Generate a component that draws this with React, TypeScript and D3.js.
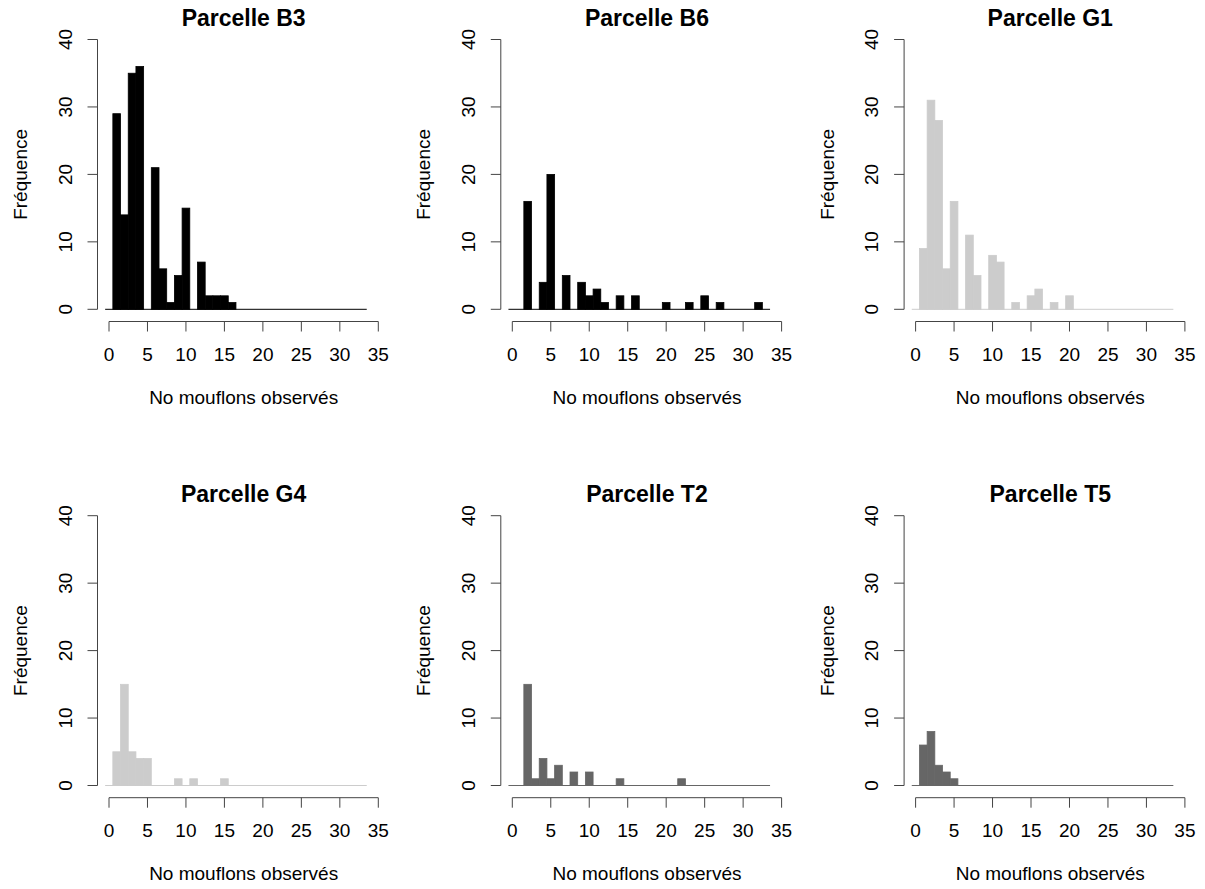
import React from "react";
import * as d3 from "d3";

// ---- data (counts per number of mouflons observed, bins 0..33) ----
const bins: number[] = d3.range(0, 34);
const titles: string[] = ["Parcelle B3", "Parcelle B6", "Parcelle G1", "Parcelle G4", "Parcelle T2", "Parcelle T5"];
const countsB3: number[] = [0, 29, 14, 35, 36, 0, 21, 6, 1, 5, 15, 0, 7, 2, 2, 2, 1, 0, 0, 0, 0, 0, 0, 0, 0, 0, 0, 0, 0, 0, 0, 0, 0, 0];
const countsB6: number[] = [0, 0, 16, 0, 4, 20, 0, 5, 0, 4, 2, 3, 1, 0, 2, 0, 2, 0, 0, 0, 1, 0, 0, 1, 0, 2, 0, 1, 0, 0, 0, 0, 1, 0];
const countsG1: number[] = [0, 9, 31, 28, 6, 16, 0, 11, 5, 0, 8, 7, 0, 1, 0, 2, 3, 0, 1, 0, 2, 0, 0, 0, 0, 0, 0, 0, 0, 0, 0, 0, 0, 0];
const countsG4: number[] = [0, 5, 15, 5, 4, 4, 0, 0, 0, 1, 0, 1, 0, 0, 0, 1, 0, 0, 0, 0, 0, 0, 0, 0, 0, 0, 0, 0, 0, 0, 0, 0, 0, 0];
const countsT2: number[] = [0, 0, 15, 1, 4, 1, 3, 0, 2, 0, 2, 0, 0, 0, 1, 0, 0, 0, 0, 0, 0, 0, 1, 0, 0, 0, 0, 0, 0, 0, 0, 0, 0, 0];
const countsT5: number[] = [0, 6, 8, 3, 2, 1, 0, 0, 0, 0, 0, 0, 0, 0, 0, 0, 0, 0, 0, 0, 0, 0, 0, 0, 0, 0, 0, 0, 0, 0, 0, 0, 0, 0];
const colors: string[] = ["#000000", "#000000", "#cccccc", "#cccccc", "#666666", "#666666"];
const xTicks: number[] = [0, 5, 10, 15, 20, 25, 30, 35];
const yTicks: number[] = [0, 10, 20, 30, 40];
const xLabel = "No mouflons observés";
const yLabel = "Fréquence";

const allCounts = [countsB3, countsB6, countsG1, countsG4, countsT2, countsT5];

const FONT = "'Liberation Sans', Arial, Helvetica, sans-serif";
const AXIS = "#444";

function Panel({ idx }: { idx: number }) {
  const col = idx % 3;
  const row = Math.floor(idx / 3);
  const dx = col * 403.3;
  const dy = row * 476.2;
  const x = d3.scaleLinear().domain([0, 35]).range([109 + dx, 378.3 + dx]);
  const y = d3.scaleLinear().domain([0, 40]).range([309.3 + dy, 39.5 + dy]);
  const counts = allCounts[idx];
  const color = colors[idx];
  const axisX = 97.5 + dx;
  const axisY = 321.5 + dy;
  const tickLen = 10;
  const cx = x(17.5);
  const cy = y(20);
  return (
    <g>
      <text x={cx} y={26 + dy} textAnchor="middle" fontFamily={FONT} fontWeight="bold" fontSize={23} fill="#000">
        {titles[idx]}
      </text>
      <line x1={x(-0.5)} x2={x(33.5)} y1={y(0)} y2={y(0)} stroke={color} strokeWidth={1} />
      {bins.map((b, i) =>
        counts[i] > 0 ? (
          <rect
            key={b}
            x={x(b - 0.5)}
            width={x(b + 0.5) - x(b - 0.5)}
            y={y(counts[i])}
            height={y(0) - y(counts[i])}
            fill={color}
            stroke={color}
            strokeWidth={0.8}
          />
        ) : null
      )}
      <line x1={axisX} x2={axisX} y1={y(0)} y2={y(40)} stroke={AXIS} strokeWidth={1} />
      {yTicks.map((t) => (
        <g key={"y" + t}>
          <line x1={axisX - tickLen} x2={axisX} y1={y(t)} y2={y(t)} stroke={AXIS} strokeWidth={1} />
          <text
            transform={`translate(${axisX - 26},${y(t)}) rotate(-90)`}
            textAnchor="middle"
            fontFamily={FONT}
            fontSize={19}
            fill="#000"
          >
            {t}
          </text>
        </g>
      ))}
      <line x1={x(0)} x2={x(35)} y1={axisY} y2={axisY} stroke={AXIS} strokeWidth={1} />
      {xTicks.map((t) => (
        <g key={"x" + t}>
          <line x1={x(t)} x2={x(t)} y1={axisY} y2={axisY + tickLen} stroke={AXIS} strokeWidth={1} />
          <text x={x(t)} y={axisY + 39} textAnchor="middle" fontFamily={FONT} fontSize={19} fill="#000">
            {t}
          </text>
        </g>
      ))}
      <text x={cx} y={404 + dy} textAnchor="middle" fontFamily={FONT} fontSize={19} fill="#000">
        {xLabel}
      </text>
      <text
        transform={`translate(${27 + dx},${cy}) rotate(-90)`}
        textAnchor="middle"
        fontFamily={FONT}
        fontSize={19}
        fill="#000"
      >
        {yLabel}
      </text>
    </g>
  );
}

export default function App() {
  return (
    <svg
      width={1205}
      height={889}
      style={{ position: "absolute", left: 0, top: 0, background: "#fff" }}
    >
      <rect x={0} y={0} width={1205} height={889} fill="#fff" />
      {titles.map((_, i) => (
        <Panel key={i} idx={i} />
      ))}
    </svg>
  );
}
